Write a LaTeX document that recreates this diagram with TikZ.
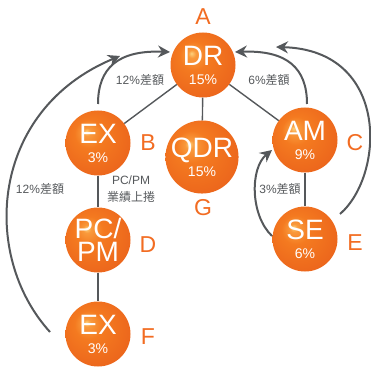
\documentclass[tikz,border=0pt]{standalone}
\usepackage{fontspec}
\setmainfont{Liberation Sans}
\newfontfamily\cjk{Noto Sans CJK TC}
\usetikzlibrary{arrows.meta}

\definecolor{orbhi}{HTML}{FDD27E}
\definecolor{orbmid}{HTML}{F99A3C}
\definecolor{orbmain}{HTML}{F47A20}
\definecolor{orbedge}{HTML}{EC661C}
\definecolor{lettercol}{HTML}{F26C22}
\definecolor{linegray}{HTML}{55585B}
\pgfdeclareradialshading{orb}{\pgfpoint{-9bp}{9bp}}{color(0bp)=(orbhi); color(3bp)=(orbmid); color(11bp)=(orbmain); color(30bp)=(orbedge); color(50bp)=(orbedge)}

\tikzset{
	orb/.style={circle, shading=orb, minimum size=65pt, inner sep=0pt, text=white, align=center, font=\fontsize{28}{19}\selectfont},
	letter/.style={text=lettercol, font=\fontsize{23}{23}\selectfont, inner sep=0pt},
	note/.style={text=linegray, font=\fontsize{12}{17}\selectfont, inner sep=0pt, align=center},
	link/.style={draw=linegray, line width=1.4pt},
	flow/.style={draw=linegray, line width=2pt, -{Stealth[length=12pt, width=12pt, inset=4pt]}},
}

\begin{document}
\begin{tikzpicture}[x=1pt, y=-1pt]
	\useasboundingbox (0,0) rectangle (371,366);

	\node[orb] (dr) at (203,65) {DR\\\fontsize{14}{14}\selectfont 15\%};
	\node[orb] (qdr) at (202,157) {QDR\\\fontsize{14}{14}\selectfont 15\%};
	\node[orb] (ex1) at (98,143) {EX\\\fontsize{14}{14}\selectfont 3\%};
	\node[orb, font=\fontsize{28}{23}\selectfont] (pcpm) at (98,240) {PC\smash{/}\\PM};
	\node[orb] (ex2) at (98,334) {EX\\\fontsize{14}{14}\selectfont 3\%};
	\node[orb] (am) at (305,140) {AM\\\fontsize{14}{14}\selectfont 9\%};
	\node[orb] (se) at (305,239) {SE\\\fontsize{14}{14}\selectfont 6\%};

	\node[letter] (la) at (203,17) {A};
	\node[letter] (lb) at (148,143) {B};
	\node[letter] (lc) at (355,143) {C};
	\node[letter] (ld) at (148,245) {D};
	\node[letter] (le) at (355,243) {E};
	\node[letter] (lf) at (148,337) {F};
	\node[letter] (lg) at (203,208) {G};

	\draw[link] (dr) -- (ex1);
	\draw[link] (dr) -- (qdr);
	\draw[link] (dr) -- (am);
	\draw[link] (ex1) -- (pcpm);
	\draw[link] (pcpm) -- (ex2);
	\draw[link] (am) -- (se);

	\coordinate (ex1up) at (98,104);
	\coordinate (drwest) at (170,52);
	\coordinate (amup) at (307,104);
	\coordinate (dreast) at (235,52);
	\coordinate (ex2left) at (50,332);
	\coordinate (drfar) at (120,56);
	\coordinate (seright) at (340,214);
	\coordinate (drfareast) at (276,47);
	\coordinate (seleft) at (272,236);
	\coordinate (amwest) at (272,150);

	\draw[flow] (ex1up) .. controls (98,68) and (118,50) .. (drwest);
	\draw[flow] (amup) .. controls (307,68) and (287,50) .. (dreast);
	\draw[flow] (ex2left) .. controls (-20,255) and (-10,110) .. (drfar);
	\draw[flow] (seright) .. controls (385,175) and (390,50) .. (drfareast);
	\draw[flow] (seleft) .. controls (250,215) and (250,168) .. (amwest);

	\node[note] (n1) at (140,80) {12\%{\cjk 差額}};
	\node[note] (n2) at (269,80) {6\%{\cjk 差額}};
	\node[note] (n3) at (40,189) {12\%{\cjk 差額}};
	\node[note] (n4) at (131,189) {PC/PM\\{\cjk 業績上捲}};
	\node[note] (n5) at (280,189) {3\%{\cjk 差額}};
\end{tikzpicture}
\end{document}
